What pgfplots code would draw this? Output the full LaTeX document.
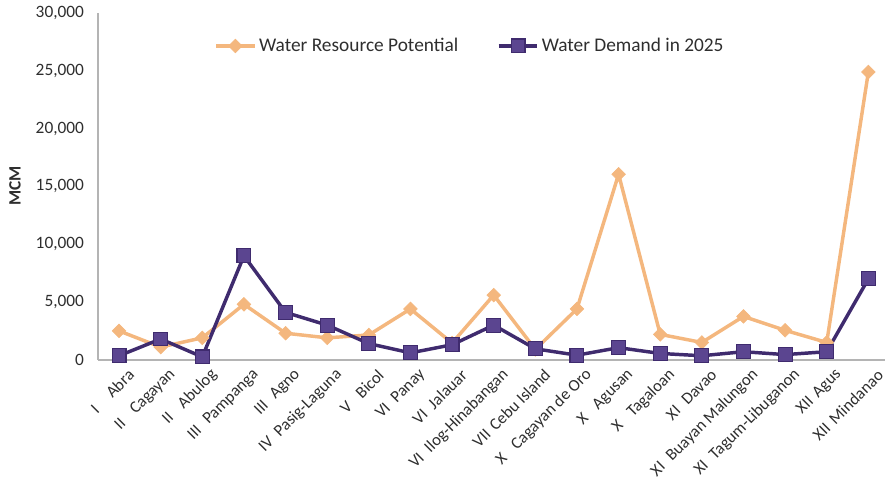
\documentclass[border=0pt]{standalone}
\usepackage{fontspec}
\setmainfont{Carlito}
\usepackage{pgfplots}
\pgfplotsset{compat=1.18}

\definecolor{potential}{HTML}{F4B77E}
\definecolor{demandline}{HTML}{3F2B6E}
\definecolor{demandfill}{HTML}{5B4590}
\definecolor{axisgrey}{HTML}{B4B4B4}
\definecolor{textgrey}{HTML}{2E2E2E}

% region label: numeral padded to a minimum width, then the basin name
\newlength\rbw
\newcommand{\rb}[2]{\settowidth{\rbw}{#1\hspace{0.35em}}%
  \ifdim\rbw<1.3em\setlength{\rbw}{1.3em}\fi\makebox[\rbw][l]{#1}#2}

\begin{document}
\begin{tikzpicture}
\path[use as bounding box] (-73.5pt,-90pt) rectangle (593pt,269.75pt);
\begin{axis}[
  at={(0pt,0pt)}, anchor=south west,
  scale only axis, width=590pt, height=260pt,
  xmin=-0.505, xmax=18.4, ymin=0, ymax=30000,
  axis lines*=left,
  axis line style={draw=axisgrey, line width=1.1pt},
  major tick length=0pt,
  xtick={0,...,18},
  ytick={0,5000,...,30000},
  xticklabels={\rb{I}{Abra},\rb{II}{Cagayan},\rb{II}{Abulog},\rb{III}{Pampanga},
    \rb{III}{Agno},\rb{IV}{Pasig-Laguna},\rb{V}{Bicol},\rb{VI}{Panay},\rb{VI}{Jalauar},
    \rb{VI}{Ilog-Hinabangan},\rb{VII}{Cebu Island},\rb{X}{Cagayan de Oro},\rb{X}{Agusan},
    \rb{X}{Tagaloan},\rb{XI}{Davao},\rb{XI}{Buayan Malungon},\rb{XI}{Tagum-Libuganon},
    \rb{XII}{Agus},\rb{XII}{Mindanao}},
  scaled y ticks=false,
  /pgf/number format/.cd, 1000 sep={,}, assume math mode=true, /pgfplots/.cd,
  tick label style={font=\fontsize{13}{15}\selectfont, text=textgrey},
  xticklabel style={font=\fontsize{12.5}{14}\selectfont, rotate=45, anchor=east,
    inner sep=1pt, xshift=1pt, yshift=-13pt},
  yticklabel style={xshift=-7pt},
  ylabel={MCM},
  every axis y label/.style={at={(axis description cs:-0.1055,0.501)}, rotate=90,
    anchor=center, font=\fontsize{13}{15}\selectfont\bfseries, text=textgrey},
  legend columns=2,
  legend style={draw=none, fill=none, at={(axis description cs:0.473,0.905)},
    anchor=center, font=\fontsize{14.5}{16}\selectfont, text=textgrey,
    nodes={inner sep=2pt},
    /tikz/every even column/.append style={column sep=27pt}},
  legend image code/.code={
    \draw[mark repeat=2, mark phase=2, #1] plot coordinates {(0pt,0pt) (14.5pt,0pt) (29pt,0pt)};},
]
\addplot[color=potential, line width=2.6pt, mark=square*,
  mark size=3.6pt, mark options={rotate=45, fill=potential, draw=potential, line width=0.5pt}]
  coordinates {
  (0,2500) (1,1100) (2,1900) (3,4800) (4,2300) (5,1900) (6,2150) (7,4400)
  (8,1450) (9,5600) (10,900) (11,4400) (12,16050) (13,2200) (14,1500)
  (15,3750) (16,2550) (17,1500) (18,24900)};
\addlegendentry{Water Resource Potential}
\addplot[color=demandline, line width=2.6pt, mark=square*,
  mark size=5.2pt, mark options={fill=demandfill, draw=demandline, line width=0.8pt}]
  coordinates {
  (0,350) (1,1800) (2,250) (3,9000) (4,4100) (5,3000) (6,1400) (7,600)
  (8,1300) (9,3000) (10,950) (11,400) (12,1050) (13,550) (14,350)
  (15,700) (16,450) (17,700) (18,7000)};
\addlegendentry{Water Demand in 2025}
\end{axis}
\end{tikzpicture}
\end{document}
